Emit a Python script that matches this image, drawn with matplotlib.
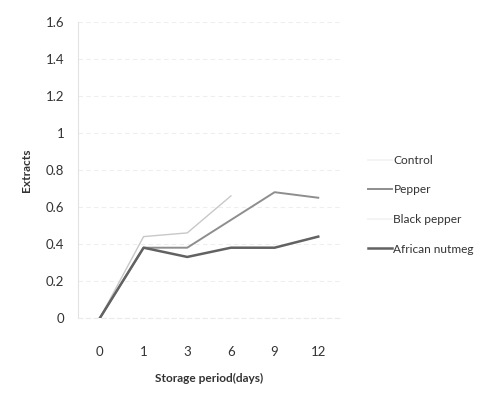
import numpy as np
import matplotlib
matplotlib.use("Agg")
import matplotlib.pyplot as plt
import matplotlib.lines as mlines

days = ["0", "1", "3", "6", "9", "12"]
y_ticks = [0, 0.2, 0.4, 0.6, 0.8, 1, 1.2, 1.4, 1.6]
y_tick_labels = ["0", "0.2", "0.4", "0.6", "0.8", "1", "1.2", "1.4", "1.6"]

control = [0, 0.44, 0.46, 0.66, np.nan, np.nan]
pepper = [0, 0.38, 0.38, 0.53, 0.68, 0.65]
black_pepper = [np.nan] * 6
african_nutmeg = [0, 0.38, 0.33, 0.38, 0.38, 0.44]

plt.rcParams['font.family'] = ['Lato', 'DejaVu Sans']

fig = plt.figure(figsize=(4.79, 4.0), dpi=100)
ax = fig.add_axes([0.163, 0.205, 0.547, 0.74])

x = np.arange(len(days))
ax.plot(x, control, color="#c8c8c8", lw=1.0, label="Control")
ax.plot(x, pepper, color="#8e8e8e", lw=1.4, label="Pepper")
ax.plot(x, black_pepper, color="#f4f4f4", lw=1.4, label="Black pepper")
ax.plot(x, african_nutmeg, color="#626262", lw=1.8, label="African nutmeg")
ax.set_xlim(-0.5, 5.5)
ax.set_ylim(0, 1.6)
ax.set_xticks(x)
ax.set_xticklabels(days, fontsize=9.5, color="#333333")
ax.set_yticks(y_ticks)
ax.set_yticklabels(y_tick_labels, fontsize=9.5, color="#333333")
ax.tick_params(axis='both', length=0)
ax.tick_params(axis='x', pad=20)
ax.tick_params(axis='y', pad=10)
ax.grid(axis='y', color="#eeeeee", lw=0.8, ls=(0, (4, 3)))
for s in ["top", "right"]:
    ax.spines[s].set_visible(False)
ax.spines["left"].set_color("#e2e2e2")
ax.spines["bottom"].set_color("#eaeaea")
ax.spines["bottom"].set_linestyle((0, (4, 3)))

ax.set_xlabel("Storage period(days)", fontsize=8.6, fontweight="bold", color="#333333", labelpad=11)
ax.set_ylabel("Extracts", fontsize=8.6, fontweight="bold", color="#333333", labelpad=10)

h1 = mlines.Line2D([], [], color="#f2f2f2", lw=1.2)
h2 = mlines.Line2D([], [], color="#8e8e8e", lw=1.4)
h3 = mlines.Line2D([], [], color="#f4f4f4", lw=1.4)
h4 = mlines.Line2D([], [], color="#626262", lw=1.8)
fig.legend([h1, h2, h3, h4], ["Control", "Pepper", "Black pepper", "African nutmeg"],
           loc="upper left", bbox_to_anchor=(0.756, 1 - 149 / 400), frameon=False,
           borderpad=0, handlelength=2.0, handletextpad=0.12, labelspacing=1.55,
           fontsize=8.6, labelcolor="#333333")

fig.savefig("out.png", dpi=100)
